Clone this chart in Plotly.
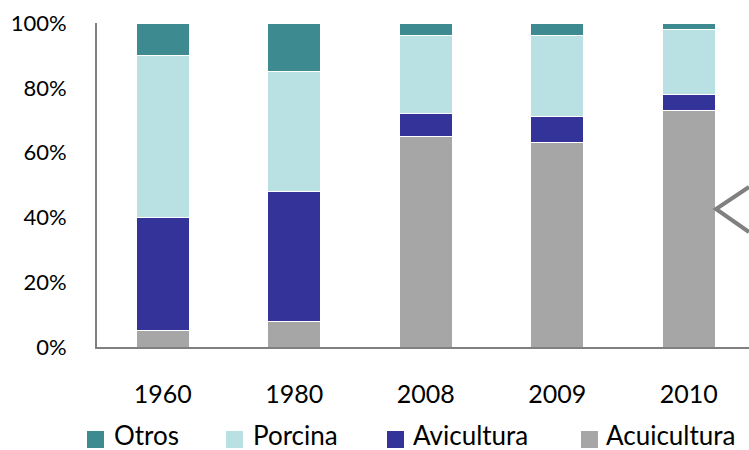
import plotly.graph_objects as go

years = ["1960", "1980", "2008", "2009", "2010"]
acuicultura = [5, 8, 65, 63, 73]
avicultura = [35, 40, 7, 8, 5]
porcina = [50, 37, 24, 25, 20]
otros = [10, 15, 4, 4, 2]

series = [
    ("Acuicultura", acuicultura, "#A6A6A6"),
    ("Avicultura", avicultura, "#333399"),
    ("Porcina", porcina, "#B9E0E2"),
    ("Otros", otros, "#3D8B91"),
]

fig = go.Figure()
for name, vals, col in series:
    fig.add_trace(go.Bar(
        x=years, y=vals, name=name,
        marker=dict(color=col, line=dict(color="white", width=1)),
        width=0.4, showlegend=False,
    ))

W, H = 749, 450
L, R, T, B = 97, 749, 23, 347

def px(x, y):
    return (x - L) / (R - L), (B - y) / (B - T)

# callout chevron cropped at right edge
p1 = px(749, 187); p2 = px(716, 209); p3 = px(749, 232)
fig.add_shape(type="path", xref="paper", yref="paper",
              path=f"M {p1[0]},{p1[1]} L {p2[0]},{p2[1]} L {p3[0]},{p3[1]}",
              line=dict(color="#808080", width=4))

# legend (order: Otros, Porcina, Avicultura, Acuicultura)
legend_swatch_x = [87, 226, 387, 581]
legend_text_x = [113, 252, 412, 605]
sw_top, sw_size, text_y = 431, 17, 435
for (name, _, col), sx, tx in zip(reversed(series), legend_swatch_x, legend_text_x):
    a = px(sx, sw_top + sw_size); b = px(sx + sw_size, sw_top)
    fig.add_shape(type="rect", xref="paper", yref="paper",
                  x0=a[0], y0=a[1], x1=b[0], y1=b[1],
                  fillcolor=col, line=dict(width=0))
    t = px(tx, text_y)
    fig.add_annotation(xref="paper", yref="paper", x=t[0], y=t[1],
                       xanchor="left", yanchor="middle", text=name,
                       showarrow=False, font=dict(size=26), xshift=-1)

fig.update_layout(
    width=W, height=H,
    barmode="stack",
    plot_bgcolor="white", paper_bgcolor="white",
    margin=dict(l=L, r=W - R, t=T, b=H - B),
    font=dict(family="Lato", size=22, color="#000000"),
    xaxis=dict(range=[-0.5, 4.458], showline=True, linecolor="#808080", linewidth=2,
               ticks="", showgrid=False, ticklabelstandoff=24, zeroline=False,
               tickfont=dict(size=25)),
    yaxis=dict(range=[0, 100], tickvals=[0, 20, 40, 60, 80, 100],
               ticktext=["0%", "20%", "40%", "60%", "80%", "100%"],
               showline=True, linecolor="#808080", linewidth=2, ticks="",
               showgrid=False, zeroline=False, ticklabelstandoff=24),
    showlegend=False,
)

fig.write_html("out.html", config={"displayModeBar": False},
               post_script="document.body.style.margin='0';document.body.style.overflow='hidden';")
